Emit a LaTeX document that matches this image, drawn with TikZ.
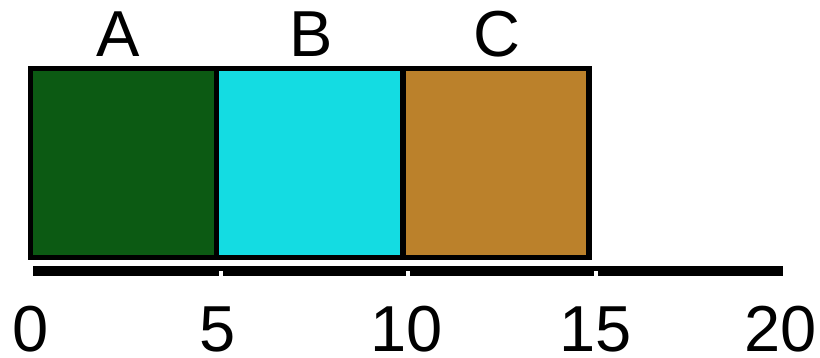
\documentclass[tikz,border=0pt]{standalone}
\usepackage{fontspec}
\setmainfont{Liberation Sans}
\definecolor{segA}{HTML}{0C5A13}
\definecolor{segB}{HTML}{14DCE2}
\definecolor{segC}{HTML}{BB812B}
\begin{document}
\begin{tikzpicture}[x=1pt,y=-1pt,
  seg/.style={draw=black, line width=5.5pt, minimum width=186pt, minimum height=189pt, inner sep=0pt},
  lbl/.style={anchor=base, inner sep=0pt, font=\fontsize{65}{70}\selectfont},
  notch/.style={fill=white}]
  \useasboundingbox (0,0) rectangle (820,358);
  % three segments of the bar
  \node[seg, fill=segA] (A) at (123.5,163) {};
  \node[seg, fill=segB] (B) at (309.5,163) {};
  \node[seg, fill=segC] (C) at (496,163) {};
  % segment names
  \node[lbl] (tA) at (118,57) {A};
  \node[lbl] (tB) at (311,57) {B};
  \node[lbl] (tC) at (497,57) {C};
  % scale bar with notches at the ticks
  \fill[black] (33,266.5) rectangle (782.5,276.5);
  \foreach \t in {219,406,594} {
    \fill[notch] (\t,271) rectangle ++(4,6);
  }
  % tick labels
  \foreach \v/\px in {0/31,5/218,10/407,15/596,20/781} {
    \node[lbl] (n\v) at (\px,351.5) {\v};
  }
\end{tikzpicture}
\end{document}
